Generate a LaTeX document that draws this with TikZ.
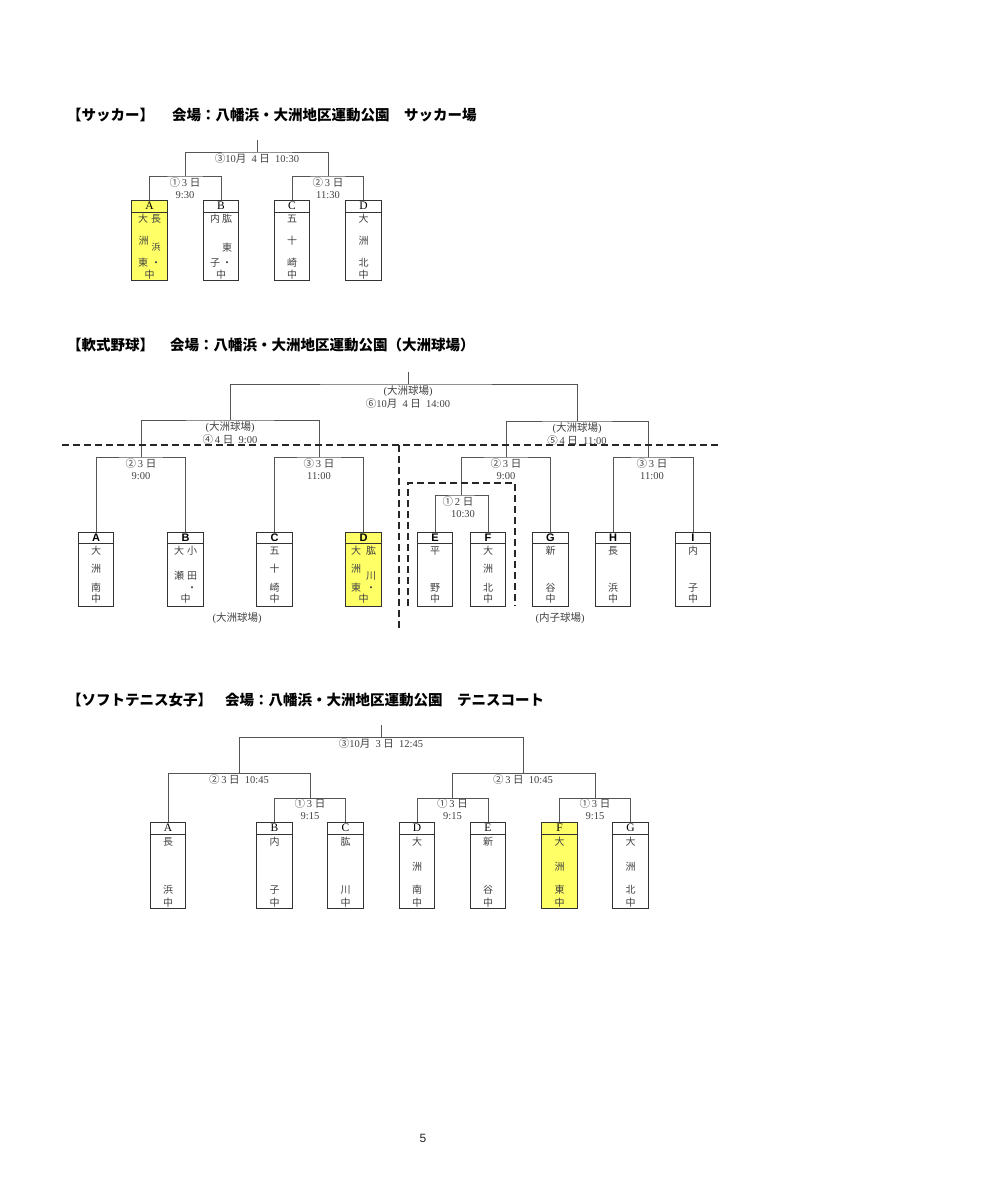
\documentclass[tikz,border=0pt]{standalone}
\usepackage{fontspec}
\setmainfont{Liberation Serif}
\newfontfamily\jp{Noto Sans CJK JP}
\newfontfamily\hsans{Liberation Sans}
\usepackage{xcolor}
\definecolor{linegray}{HTML}{555555}
\definecolor{textgray}{HTML}{404040}
\definecolor{winyellow}{HTML}{FFFF66}

\newcommand{\J}[1]{{\jp #1}}
% one team box: [fill]{name}{x}{y top}{letter}{row1}{row2}{row3}{row4}
\newcommand{\team}[9][white]{%
  \node[teambox, fill=#1] (#2) at (#3,#4) {};
  \draw[boxedge] ([yshift=-\headh*1pt]#2.north west) -- ([yshift=-\headh*1pt]#2.north east);
  \node[headtext] (#2h) at ([yshift=-\headh*0.5pt]#2.north) {#5};
  \node[bodytext] (#2a) at ([yshift=-\rowa*1pt]#2.north) {#6};
  \node[bodytext] (#2b) at ([yshift=-\rowb*1pt]#2.north) {#7};
  \node[bodytext] (#2c) at ([yshift=-\rowc*1pt]#2.north) {#8};
  \node[bodytext] (#2d) at ([yshift=-\rowd*1pt]#2.north) {#9};
}

\begin{document}
\begin{tikzpicture}[x=1pt, y=-1pt,
    bline/.style={draw=linegray, line width=0.8pt},
    zone/.style={draw=black!85, line width=1.5pt, dash pattern=on 7pt off 4pt},
    teambox/.style={draw=black!80, line width=0.9pt, minimum width=35.5pt, anchor=north, inner sep=0pt},
    boxedge/.style={draw=black!80, line width=0.9pt},
    bodytext/.style={font=\jp\fontsize{10}{10}\selectfont, text=textgray, inner sep=0pt, anchor=base},
    serifhead/.style={font=\fontsize{11.5}{11.5}\selectfont, inner sep=0pt},
    sanshead/.style={font=\hsans\bfseries\fontsize{11}{11}\selectfont, inner sep=0pt},
    lab/.style={font=\fontsize{10.5}{12.5}\selectfont, text=textgray, align=center, inner sep=0pt, anchor=base},
    title/.style={font=\jp\bfseries\fontsize{14.5}{14.5}\selectfont, anchor=west, inner sep=0pt}]

\useasboundingbox (0,0) rectangle (985,1200);

% ---- soccer
\node[title] (soc1) at (67,115) {【サッカー】};
\node[title] (soc2) at (172,115) {会場：八幡浜・大洲地区運動公園　サッカー場};
\begin{scope}[teambox/.append style={minimum height=80pt}, headtext/.style={serifhead}]
\def\headh{12}\def\rowa{22}\def\rowb{44}\def\rowc{66}\def\rowd{78}
\team[winyellow]{sA}{149.5}{200}{A}{大\hspace{3pt}長}{洲\hspace{3pt}\raisebox{-6pt}{\fontsize{9}{9}\selectfont 浜}}{東\hspace{3pt}・}{中}
\team{sB}{221}{200}{B}{内\hspace{2pt}肱}{\phantom{内}\hspace{2pt}\raisebox{-7pt}{東}}{子\hspace{2pt}・}{中}
\team{sC}{292}{200}{C}{五}{十}{崎}{中}
\team{sD}{363.5}{200}{D}{大}{洲}{北}{中}
\end{scope}
\coordinate (s1) at (185,176);
\coordinate (s2) at (328,176);
\coordinate (s3) at (257,152);
\coordinate (sT) at (257,140);
\draw[bline] (sA) |- (s1) -| (sB);
\draw[bline] (sC) |- (s2) -| (sD);
\draw[bline] (s1) |- (s3) -| (s2);
\draw[bline] (s3) -- (sT);
\node[lab] (ls3) at ([yshift=-10pt]s3) {\J{③}10\J{月}\ \ 4\ \J{日}\ \ 10:30};
\node[lab] (ls1) at ([yshift=-22.5pt]s1) {\J{①}\,3\ \J{日}\\9:30};
\node[lab] (ls2) at ([yshift=-22.5pt]s2) {\J{②}\,3\ \J{日}\\11:30};

% ---- baseball
\node[title] (bas1) at (67,345) {【軟式野球】};
\node[title] (bas2) at (170,345) {会場：八幡浜・大洲地区運動公園（大洲球場）};
\begin{scope}[teambox/.append style={minimum height=74pt}, headtext/.style={sanshead}]
\def\headh{11}\def\rowa{22}\def\rowb{40}\def\rowc{59}\def\rowd{70}
\team{bA}{96}{532}{A}{大}{洲}{南}{中}
\team{bB}{185.5}{532}{B}{大\hspace{3pt}小}{\raisebox{-7pt}{瀬\hspace{3pt}田}}{\phantom{大}\hspace{3pt}・}{中}
\team{bC}{274.5}{532}{C}{五}{十}{崎}{中}
\team[winyellow]{bD}{363.5}{532}{D}{大\hspace{5pt}肱}{洲\hspace{5pt}\raisebox{-7pt}{川}}{東\hspace{5pt}・}{中}
\team{bE}{435}{532}{E}{平}{}{野}{中}
\team{bF}{488}{532}{F}{大}{洲}{北}{中}
\team{bG}{550.5}{532}{G}{新}{}{谷}{中}
\team{bH}{613}{532}{H}{長}{}{浜}{中}
\team{bI}{693}{532}{I}{内}{}{子}{中}
\end{scope}
\coordinate (b1) at (461,495);
\coordinate (b2) at (141,457);
\coordinate (b3) at (319,457);
\coordinate (b2r) at (506,457);
\coordinate (b3r) at (648,457);
\coordinate (b4) at (230,420);
\coordinate (b5) at (577,421);
\coordinate (b6) at (408,384);
\coordinate (bT) at (408,372);
\draw[bline] (bA) |- (b2) -| (bB);
\draw[bline] (bC) |- (b3) -| (bD);
\draw[bline] (bE) |- (b1) -| (bF);
\draw[bline] (b1) |- (b2r) -| (bG);
\draw[bline] (bH) |- (b3r) -| (bI);
\draw[bline] (b2) |- (b4) -| (b3);
\draw[bline] (b2r) |- (b5) -| (b3r);
\draw[bline] (b4) |- (b6) -| (b5);
\draw[bline] (b6) -- (bT);
\draw[zone] (62,445) -- (720,445);
\draw[zone] (399,445) -- (399,630);
\draw[zone] (408,606) -- (408,483) -- (515,483) -- (515,606);
\node[lab] (lb6) at ([yshift=-23pt]b6) {(\J{大洲球場})\\\J{⑥}10\J{月}\ \ 4\ \J{日}\ \ 14:00};
\node[lab] (lb4) at ([yshift=-23pt]b4) {(\J{大洲球場})\\\J{④}\,4\ \J{日}\ \ 9:00};
\node[lab] (lb5) at ([yshift=-23pt]b5) {(\J{大洲球場})\\\J{⑤}\,4\ \J{日}\ \ 11:00};
\node[lab] (lb2) at ([yshift=-22.5pt]b2) {\J{②}\,3\ \J{日}\\9:00};
\node[lab] (lb3) at ([yshift=-22.5pt]b3) {\J{③}\,3\ \J{日}\\11:00};
\node[lab] (lb1) at ([xshift=-3pt,yshift=-22.5pt]b1) {\J{①}\,2\ \J{日}\\\hspace{10pt}10:30};
\node[lab] (lb2r) at ([yshift=-22.5pt]b2r) {\J{②}\,3\ \J{日}\\9:00};
\node[lab] (lb3r) at ([xshift=4pt,yshift=-22.5pt]b3r) {\J{③}\,3\ \J{日}\\11:00};
\node[lab] (vozu) at (237,621) {(\J{大洲球場})};
\node[lab] (vuchiko) at (560,621) {(\J{内子球場})};

% ---- soft tennis
\node[title] (ten1) at (67,700) {【ソフトテニス女子】};
\node[title] (ten2) at (225,700) {会場：八幡浜・大洲地区運動公園　テニスコート};
\begin{scope}[teambox/.append style={minimum height=86pt}, headtext/.style={serifhead}]
\def\headh{12}\def\rowa{23}\def\rowb{48}\def\rowc{71}\def\rowd{84}
\team{tA}{168}{822}{A}{長}{}{浜}{中}
\team{tB}{274.5}{822}{B}{内}{}{子}{中}
\team{tC}{345.5}{822}{C}{肱}{}{川}{中}
\team{tD}{417}{822}{D}{大}{洲}{南}{中}
\team{tE}{488}{822}{E}{新}{}{谷}{中}
\team[winyellow]{tF}{559.5}{822}{F}{大}{洲}{東}{中}
\team{tG}{630.5}{822}{G}{大}{洲}{北}{中}
\end{scope}
\coordinate (t1) at (310,798);
\coordinate (t2) at (452.5,798);
\coordinate (t3) at (595,798);
\coordinate (t4) at (239,773);
\coordinate (t5) at (523,773);
\coordinate (t6) at (381,737);
\coordinate (tT) at (381,725);
\draw[bline] (tB) |- (t1) -| (tC);
\draw[bline] (tD) |- (t2) -| (tE);
\draw[bline] (tF) |- (t3) -| (tG);
\draw[bline] (tA) |- (t4) -| (t1);
\draw[bline] (t2) |- (t5) -| (t3);
\draw[bline] (t4) |- (t6) -| (t5);
\draw[bline] (t6) -- (tT);
\node[lab] (lt6) at ([yshift=-10pt]t6) {\J{③}10\J{月}\ \ 3\ \J{日}\ \ 12:45};
\node[lab] (lt4) at ([yshift=-10pt]t4) {\J{②}\,3\ \J{日}\ \ 10:45};
\node[lab] (lt5) at ([yshift=-10pt]t5) {\J{②}\,3\ \J{日}\ \ 10:45};
\node[lab] (lt1) at ([yshift=-21.5pt]t1) {\J{①}\,3\ \J{日}\\9:15};
\node[lab] (lt2) at ([yshift=-21.5pt]t2) {\J{①}\,3\ \J{日}\\9:15};
\node[lab] (lt3) at ([yshift=-21.5pt]t3) {\J{①}\,3\ \J{日}\\9:15};

\node[font=\hsans\fontsize{12}{12}\selectfont, text=black!85, inner sep=0pt] (pg) at (423,1138) {5};
\end{tikzpicture}
\end{document}
